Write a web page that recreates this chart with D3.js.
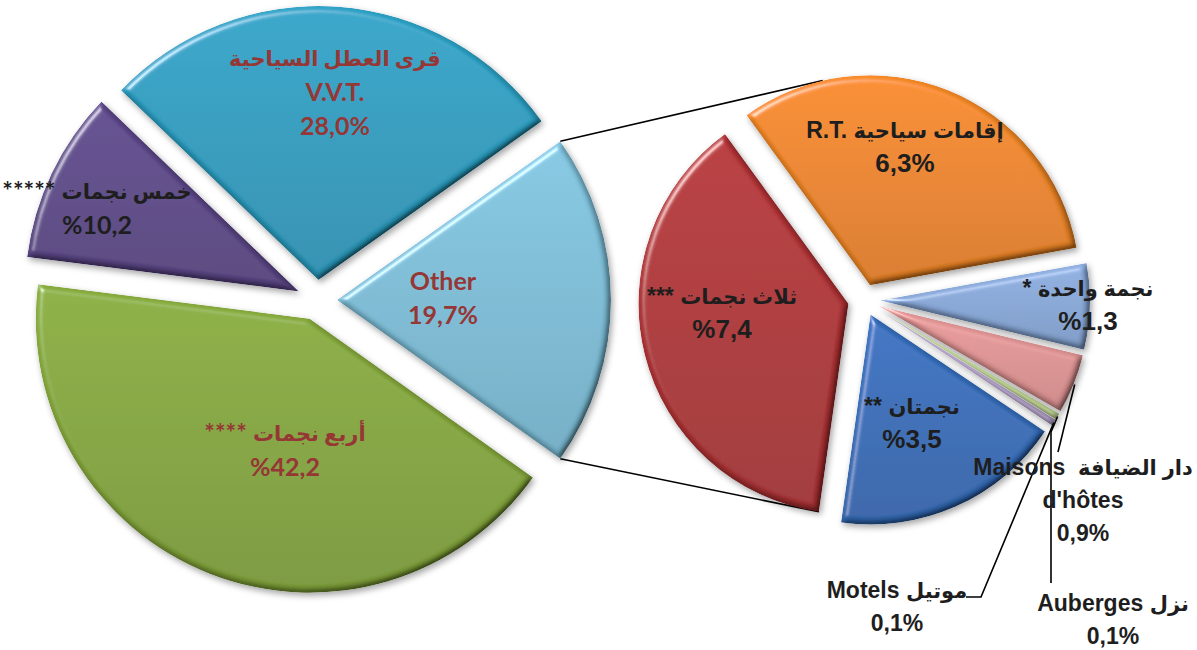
<!DOCTYPE html>
<html>
<head>
<meta charset="utf-8">
<script src="https://cdn.jsdelivr.net/npm/d3@7"></script>
<style>
  body { margin: 0; background: #fff; }
  text { font-weight: bold; white-space: pre; }
</style>
</head>
<body>
<div class="chart"></div>
<script>
// Pie of pie: accommodation capacity share by category

// main pie data (Other is broken down in the second pie)
var mainNames = ["Other", "**** أربع نجمات", "***** خمس نجمات", "قرى العطل السياحية"];
var mainValues = [19.7, 42.2, 10.2, 28.0];
var mainSubtitles = ["", "", "", "V.V.T."];
var mainPctLeft = [false, true, true, false];

// second pie data (breakdown of Other)
var subNames = ["R.T. إقامات سياحية", "* نجمة واحدة", "Maisons  دار الضيافة", "Auberges نزل", "Motels موتيل", "** نجمتان", "*** ثلاث نجمات"];
var subValues = [6.3, 1.3, 0.9, 0.1, 0.1, 3.5, 7.4];
var subSubtitles = ["", "", "d'hôtes", "", "", "", ""];
var subPctLeft = [false, true, false, false, false, true, true];

// colours
var mainColors = ["#7dbdd6", "#84a63c", "#5c4788", "#2c9cbf"];
var subColors = ["#ec8526", "#88a7d6", "#df9494", "#bfd394", "#ad9cc3", "#356cb8", "#ae3336"];
var darkRed = "#953735";
var darkText = "#1e1e1e";
var mainTextColors = [darkRed, darkRed, darkText, darkRed];

// size of svg
var svgWidth = 1197;
var svgHeight = 650;

// geometry of both pies
var mainCx = 317, mainCy = 300, mainR = 274, mainExplode = 20;
var subCx = 864, subCy = 300, subR = 210, subExplode = 16;

var svg = d3.select(".chart")
    .append("svg")
    .attr("width", svgWidth)
    .attr("height", svgHeight);

var defs = svg.append("defs");

// bevel + shadow filter, roughly like the office "soft round" effect
var f = defs.append("filter").attr("id", "bevel")
    .attr("x", "-10%").attr("y", "-10%").attr("width", "125%").attr("height", "125%");
f.append("feGaussianBlur").attr("in", "SourceAlpha").attr("stdDeviation", 3).attr("result", "b");
f.append("feDiffuseLighting").attr("in", "b").attr("surfaceScale", 5).attr("diffuseConstant", 1.15)
    .attr("lighting-color", "#fff").attr("result", "diff")
  .append("feDistantLight").attr("azimuth", 225).attr("elevation", 60);
f.append("feComposite").attr("in", "SourceGraphic").attr("in2", "diff")
    .attr("operator", "arithmetic").attr("k1", 1).attr("result", "shaded");
f.append("feSpecularLighting").attr("in", "b").attr("surfaceScale", 5).attr("specularConstant", 0.55)
    .attr("specularExponent", 28).attr("lighting-color", "#fff").attr("result", "spec")
  .append("feDistantLight").attr("azimuth", 225).attr("elevation", 35);
f.append("feComposite").attr("in", "spec").attr("in2", "SourceAlpha").attr("operator", "in").attr("result", "specIn");
f.append("feComposite").attr("in", "shaded").attr("in2", "specIn")
    .attr("operator", "arithmetic").attr("k2", 1).attr("k3", 1).attr("result", "lit");
f.append("feComposite").attr("in", "lit").attr("in2", "SourceAlpha").attr("operator", "in").attr("result", "litIn");
f.append("feGaussianBlur").attr("in", "SourceAlpha").attr("stdDeviation", 3).attr("result", "sb");
f.append("feOffset").attr("in", "sb").attr("dx", 2).attr("dy", 3).attr("result", "so");
f.append("feFlood").attr("flood-color", "#000").attr("flood-opacity", 0.35);
f.append("feComposite").attr("in2", "so").attr("operator", "in").attr("result", "shadow");
var fm = f.append("feMerge");
fm.append("feMergeNode").attr("in", "shadow");
fm.append("feMergeNode").attr("in", "litIn");

// vertical gradient for every colour
function makeGradient(id, color) {
    var g = defs.append("linearGradient").attr("id", id)
        .attr("x1", 0).attr("y1", 0).attr("x2", 0).attr("y2", 1);
    g.append("stop").attr("offset", "0%").attr("stop-color", d3.color(color).brighter(0.15));
    g.append("stop").attr("offset", "100%").attr("stop-color", d3.color(color).darker(0.25));
}
mainColors.forEach(function(c, i) { makeGradient("gm" + i, c); });
subColors.forEach(function(c, i) { makeGradient("gs" + i, c); });

function dir(a) { return [Math.sin(a), -Math.cos(a)]; }

// pies, Other centred on 3 o'clock
var mainTotal = d3.sum(mainValues);
var mainStart = Math.PI / 2 - Math.PI * mainValues[0] / mainTotal;
var mainPie = d3.pie().sort(null).startAngle(mainStart).endAngle(mainStart + 2 * Math.PI);
var subStart = -36 * Math.PI / 180;
var subPie = d3.pie().sort(null).startAngle(subStart).endAngle(subStart + 2 * Math.PI);

var mainArcs = mainPie(mainValues);
var subArcs = subPie(subValues);

// exploded centre of one slice
function sliceCenter(d, cx, cy, ex) {
    var m = dir((d.startAngle + d.endAngle) / 2);
    return [cx + ex * m[0], cy + ex * m[1]];
}
function pointOn(d, cx, cy, ex, r, a) {
    var c = sliceCenter(d, cx, cy, ex);
    var p = dir(a);
    return [c[0] + r * p[0], c[1] + r * p[1]];
}

// connector lines between the pies
var otherArc = mainArcs[0];
var orangeArc = subArcs[0];
var redArc = subArcs[6];
var topA = pointOn(otherArc, mainCx, mainCy, mainExplode, mainR, otherArc.startAngle);
var botA = pointOn(otherArc, mainCx, mainCy, mainExplode, mainR, otherArc.endAngle);
var topB = pointOn(orangeArc, subCx, subCy, subExplode, subR, -13 * Math.PI / 180);
var botB = pointOn(redArc, subCx, subCy, subExplode, subR, redArc.startAngle);

svg.append("line").attr("x1", topA[0]).attr("y1", topA[1]).attr("x2", topB[0]).attr("y2", topB[1])
    .attr("stroke", "#000").attr("stroke-width", 1.6);
svg.append("line").attr("x1", botA[0]).attr("y1", botA[1]).attr("x2", botB[0]).attr("y2", botB[1])
    .attr("stroke", "#000").attr("stroke-width", 1.6);

function drawPie(arcs, cx, cy, r, ex, prefix) {
    var arc = d3.arc().innerRadius(0).outerRadius(r);
    svg.append("g").selectAll("path")
        .data(arcs)
        .enter().append("path")
            .attr("transform", function(d) {
                var c = sliceCenter(d, cx, cy, ex);
                return "translate(" + c[0] + "," + c[1] + ")";
            })
            .attr("d", arc)
            .attr("fill", function(d, i) { return "url(#" + prefix + i + ")"; })
            .attr("filter", "url(#bevel)");
}
drawPie(mainArcs, mainCx, mainCy, mainR, mainExplode, "gm");
drawPie(subArcs, subCx, subCy, subR, subExplode, "gs");

// leader lines for the small slices
function midAngle(d) { return (d.startAngle + d.endAngle) / 2; }
var tipMaisons = pointOn(subArcs[2], subCx, subCy, subExplode, subR + 1, midAngle(subArcs[2]));
var tipAuberges = pointOn(subArcs[3], subCx, subCy, subExplode, subR, midAngle(subArcs[3]));
var tipMotels = pointOn(subArcs[4], subCx, subCy, subExplode, subR, midAngle(subArcs[4]));
var leaders = [
    [[1058, 452], tipMaisons],
    [[1051, 583], [1051, 432], tipAuberges],
    [[966, 597], [981, 597], tipMotels]
];
svg.append("g").selectAll("path")
    .data(leaders)
    .enter().append("path")
        .attr("d", d3.line())
        .attr("fill", "none")
        .attr("stroke", "#000")
        .attr("stroke-width", 1.6);

// labels
function pctText(v, left) {
    var s = v.toFixed(1).replace(".", ",");
    return left ? "%" + s : s + "%";
}

var mainLabelPos = [[443, 280], [285, 432], [97, 190], [335, 57]];
var subLabelPos = [[905, 130], [1088, 288], [1083, 467], [1113, 603], [897, 590], [912, 406], [722, 296]];
var mainPctSize = [25, 25, 25, 25];
var subPctSize = [26, 26, 23, 23, 23, 26, 26];
var arabicRun = /([\u0600-\u06FF][\u0600-\u06FF ]*[\u0600-\u06FF]|[\u0600-\u06FF])/;

function drawLabels(names, subtitles, values, pctLeft, pos, colors, latinFont, latinSize, pctSize, gap) {
    names.forEach(function(name, i) {
        var lines = [name];
        if (subtitles[i]) lines.push(subtitles[i]);
        lines.push(pctText(values[i], pctLeft[i]));
        var t = svg.append("text")
            .attr("text-anchor", "middle")
            .attr("fill", colors[i])
            .style("font-family", latinFont + ", 'DejaVu Sans', sans-serif")
            .style("font-size", latinSize + "px");
        lines.forEach(function(l, j) {
            var isPct = j === lines.length - 1;
            var runs = l.split(arabicRun).filter(function(s) { return s.length > 0; });
            runs.forEach(function(run, k) {
                var size = arabicRun.test(run) ? 21 : (isPct ? pctSize[i] : latinSize);
                var ts = t.append("tspan")
                    .attr("dominant-baseline", "central")
                    .style("font-size", size + "px")
                    .text(run);
                if (k === 0) ts.attr("x", pos[i][0]).attr("y", pos[i][1] + j * gap);
            });
        });
    });
}
drawLabels(mainNames, mainSubtitles, mainValues, mainPctLeft, mainLabelPos, mainTextColors, "Lato", 25, mainPctSize, 34);
drawLabels(subNames, subSubtitles, subValues, subPctLeft, subLabelPos, subColors.map(function() { return darkText; }), "'Liberation Sans'", 23, subPctSize, 33);
</script>
</body>
</html>
